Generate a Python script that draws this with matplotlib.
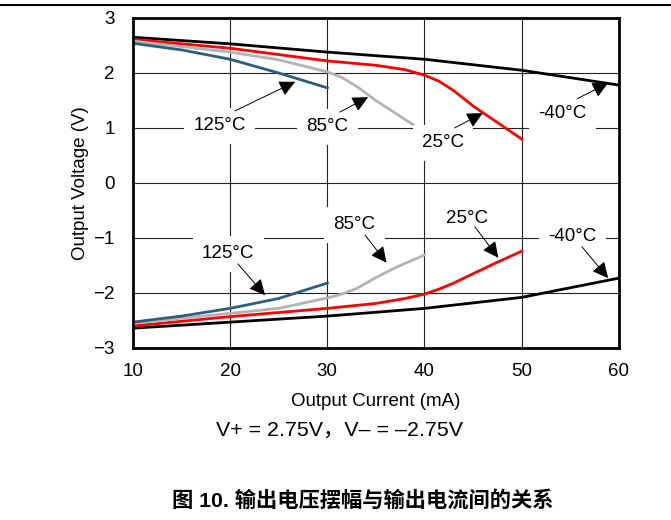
import matplotlib
matplotlib.use('Agg')
import matplotlib.pyplot as plt
from matplotlib.lines import Line2D

plt.rcParams['font.family'] = ['Liberation Sans', 'Noto Sans CJK SC', 'DejaVu Sans']

# output current (mA) and output voltage (V), high and low swing per temperature
i_m40 = [10, 20, 30, 40, 50, 60]
v_m40_hi = [2.65, 2.53, 2.38, 2.25, 2.05, 1.78]
v_m40_lo = [-2.64, -2.53, -2.42, -2.28, -2.08, -1.73]

i_25 = [10, 20, 30, 35, 38, 40, 41.5, 43, 45, 47.5, 50]
v_25_hi = [2.61, 2.45, 2.22, 2.14, 2.06, 1.96, 1.85, 1.68, 1.40, 1.10, 0.80]
v_25_lo = [-2.60, -2.43, -2.28, -2.19, -2.10, -2.02, -1.93, -1.82, -1.65, -1.44, -1.24]

i_85 = [10, 20, 25, 30, 31.5, 33, 35, 37, 39]
v_85_hi = [2.58, 2.38, 2.24, 2.02, 1.92, 1.76, 1.50, 1.27, 1.04]
i_85_lo = [10, 20, 25, 30, 31.5, 33, 35, 37, 40]
v_85_lo = [-2.55, -2.37, -2.28, -2.09, -2.02, -1.92, -1.72, -1.54, -1.31]

i_125 = [10, 15, 20, 25, 30]
v_125_hi = [2.54, 2.42, 2.25, 2.00, 1.73]
v_125_lo = [-2.53, -2.42, -2.28, -2.10, -1.82]

x_ticks = [10, 20, 30, 40, 50, 60]
y_ticks = [-3, -2, -1, 0, 1, 2, 3]
y_ticklabels = ['\u22123', '\u22122', '\u22121', '0', '1', '2', '3']

red = '#ff0000'
gray = '#b3b3b3'
blue = '#2b5f7c'

fig = plt.figure(figsize=(6.71, 5.2), dpi=100)
ax = fig.add_axes([0.198, 0.3308, 0.7243, 0.6346])

lw = 2.0
ax.plot(i_m40, v_m40_hi, color='black', lw=lw)
ax.plot(i_m40, v_m40_lo, color='black', lw=lw)
ax.plot(i_25, v_25_hi, color=red, lw=lw)
ax.plot(i_25, v_25_lo, color=red, lw=lw)
ax.plot(i_85, v_85_hi, color=gray, lw=lw)
ax.plot(i_85_lo, v_85_lo, color=gray, lw=lw)
ax.plot(i_125, v_125_hi, color=blue, lw=lw)
ax.plot(i_125, v_125_lo, color=blue, lw=lw)

ax.set_xlim(10, 60)
ax.set_ylim(-3, 3)
ax.set_xticks(x_ticks)
ax.set_yticks(y_ticks)
ax.set_yticklabels(y_ticklabels)
ax.tick_params(axis='x', length=0, labelsize=13.5, pad=11)
ax.tick_params(axis='y', length=0, labelsize=13.5, pad=13)
ax.grid(True, color='#222222', lw=0.8)
ax.set_axisbelow(True)
for s in ax.spines.values():
    s.set_linewidth(2)

ax.set_xlabel('Output Current (mA)', fontsize=13.5, labelpad=9)
ax.set_ylabel('Output Voltage (V)', fontsize=13.5, labelpad=3)

# temperature labels with arrows
labels = [
    ('125°C', (18.95, 1.04), (20.5, 1.31), (26.7, 1.84)),
    ('85°C', (30.0, 1.02), (31.3, 1.29), (34.2, 1.56)),
    ('25°C', (41.9, 0.73), (43.1, 1.0), (46.0, 1.27)),
    ('-40°C', (54.2, 1.27), (55.7, 1.53), (58.9, 1.82)),
    ('125°C', (19.8, -1.29), (20.8, -1.47), (23.6, -2.04)),
    ('85°C', (32.8, -0.76), (33.9, -0.95), (36.1, -1.45)),
    ('25°C', (44.4, -0.64), (45.2, -0.80), (47.6, -1.36)),
    ('-40°C', (55.2, -0.98), (56.2, -1.16), (58.9, -1.73)),
]
for txt, pos, tail, head in labels:
    ax.text(pos[0], pos[1], txt, fontsize=13.5, ha='center', va='center', zorder=5,
            bbox=dict(boxstyle='square,pad=0.5', fc='white', ec='none'))
    ax.annotate('', xy=head, xytext=tail, zorder=6,
                arrowprops=dict(arrowstyle='-|>,head_length=0.65,head_width=0.32',
                                mutation_scale=15, lw=0.7, color='black',
                                shrinkA=0, shrinkB=0))

fig.text(0.506, 1 - 430 / 520, 'V+ = 2.75V\uff0cV\u2013 = \u20132.75V', fontsize=15.4,
         ha='center', va='center')
fig.text(0.541, 1 - 500 / 520, '图 10. 输出电压摆幅与输出电流间的关系', fontsize=15.3,
         fontweight='bold', ha='center', va='center')

fig.add_artist(Line2D([0, 1], [1 - 4.5 / 520, 1 - 4.5 / 520], color='black', lw=1.5,
                      transform=fig.transFigure))

fig.savefig('out.png', dpi=100)
